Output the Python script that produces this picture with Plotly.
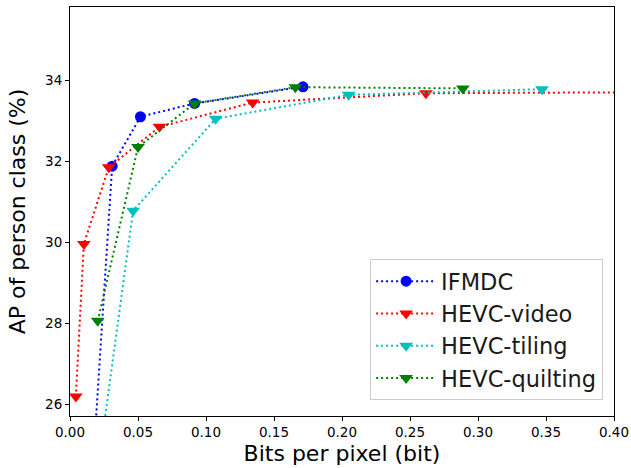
import plotly.graph_objects as go

# Data (bits per pixel, AP %)
ifmdc_bpp = [0.016, 0.031, 0.0518, 0.0916, 0.1713]
ifmdc_ap = [24.0, 31.88, 33.10, 33.43, 33.84]

video_bpp = [0.0043, 0.0102, 0.0285, 0.0658, 0.1343, 0.2617, 0.52]
video_ap = [26.19, 29.96, 31.85, 32.85, 33.45, 33.68, 33.72]

tiling_bpp = [0.019, 0.0464, 0.1071, 0.2049, 0.347]
tiling_ap = [24.0, 30.78, 33.05, 33.64, 33.78]

quilting_bpp = [0.0204, 0.050, 0.0917, 0.1657, 0.2889]
quilting_ap = [28.06, 32.35, 33.43, 33.83, 33.80]

x_ticks = [0.00, 0.05, 0.10, 0.15, 0.20, 0.25, 0.30, 0.35, 0.40]
y_ticks = [26, 28, 30, 32, 34]

series = [
    ("IFMDC", ifmdc_bpp, ifmdc_ap, "#0000ff", "circle"),
    ("HEVC-video", video_bpp, video_ap, "#ff0000", "triangle-down"),
    ("HEVC-tiling", tiling_bpp, tiling_ap, "#00bfbf", "triangle-down"),
    ("HEVC-quilting", quilting_bpp, quilting_ap, "#008000", "triangle-down"),
]

FONT = "DejaVu Sans"

fig = go.Figure()
for name, xs, ys, col, sym in series:
    fig.add_trace(go.Scatter(
        x=xs, y=ys, name=name, mode="lines+markers",
        line=dict(color=col, width=2, dash="2px,3px"),
        marker=dict(color=col, symbol=sym, size=11 if sym == "circle" else 12),
        cliponaxis=True,
    ))

axis_common = dict(
    showline=True, linecolor="black", linewidth=1, mirror=True,
    ticks="outside", ticklen=4, tickcolor="black", tickwidth=1,
    showgrid=False, zeroline=False,
    tickfont=dict(family=FONT, size=13.5, color="black"),
)

fig.update_xaxes(
    range=[0.0, 0.4], tickvals=x_ticks,
    ticktext=[f"{v:.2f}" for v in x_ticks],
    title=dict(text="Bits per pixel (bit)", font=dict(family=FONT, size=22, color="black"), standoff=6),
    **axis_common,
)
fig.update_yaxes(
    range=[25.71, 35.81], tickvals=y_ticks,
    ticktext=[str(v) for v in y_ticks],
    title=dict(text="AP of person class (%)", font=dict(family=FONT, size=22, color="black"), standoff=13),
    **axis_common,
)

fig.update_layout(
    width=631, height=468,
    margin=dict(l=70, r=17, t=7, b=52, autoexpand=False),
    paper_bgcolor="white", plot_bgcolor="white",
    font=dict(family=FONT, color="black"),
    legend=dict(
        x=0.98, y=0.039, xanchor="right", yanchor="bottom",
        bgcolor="rgba(255,255,255,0.8)", bordercolor="#cccccc", borderwidth=1,
        font=dict(family=FONT, size=22.5, color="#1a1a1a"),
        itemwidth=60,
    ),
)

fig.write_html(
    "out.html",
    config={"displayModeBar": False},
    post_script="document.body.style.margin='0';document.body.style.overflow='hidden';",
)
